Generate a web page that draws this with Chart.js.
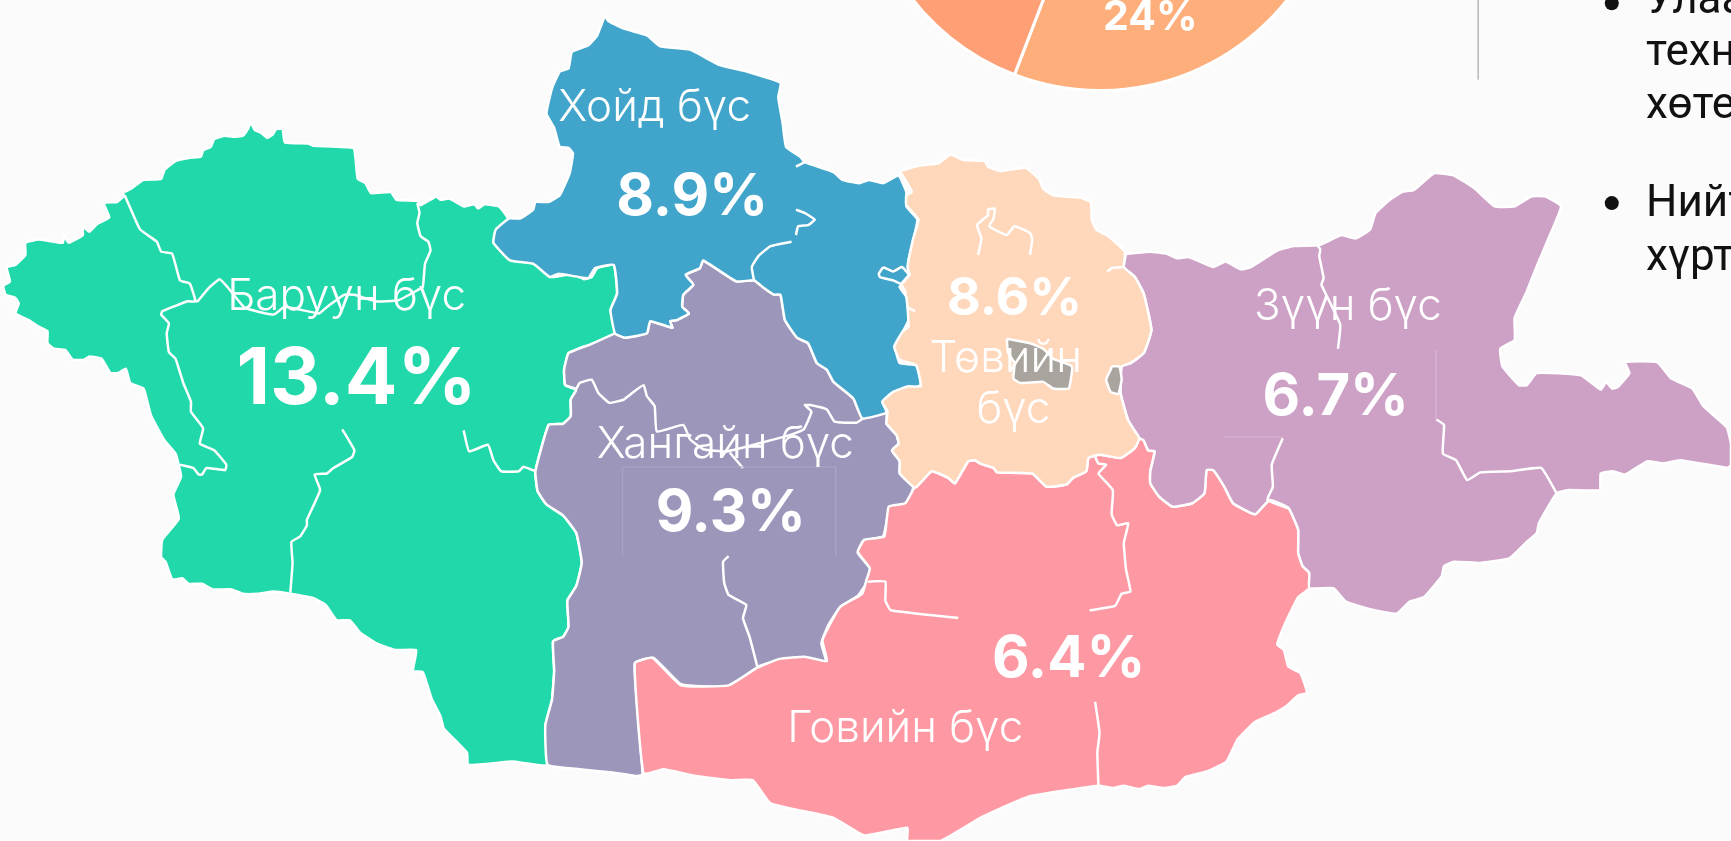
<!DOCTYPE html>
<html>
<head>
<meta charset="utf-8">
<title>Бүсийн хувь</title>
<script src="https://cdn.jsdelivr.net/npm/chart.js@4"></script>
<style>
  html, body { margin: 0; padding: 0; width: 1731px; height: 841px; overflow: hidden; background: #fbfbfb; }
  #pieChart { position: absolute; left: 860px; top: -388px; }
  #mapChart { position: absolute; left: 0; top: 0; }
</style>
</head>
<body>
<canvas id="pieChart" width="480" height="480"></canvas>
<canvas id="mapChart" width="1731" height="841"></canvas>
<script>
// region shares
const regionNames = [["Баруун бүс"], ["Хойд бүс"], ["Төвийн", "бүс"], ["Хангайн бүс"], ["Говийн бүс"], ["Зүүн бүс"]];
const regionShares = [13.4, 8.9, 8.6, 9.3, 6.4, 6.7];
const pieValues = [24, 20, 56];
const pieColors = ["#fdae7a", "#fe9f76", "#fe9f76"];
const sideText = ["Улаан", "техн", "хөте", "Нийт", "хүрт"];

// region outlines, in map units (1568 x 762)
const westOutline = [[113,174],[120,170],[130,163],[146,162],[149,154],[159,146],[172,143],[182,142],[184,136],[191,133],[194,126],[203,123],[211,124],[220,123],[225,116],[227,111],[231,118],[236,120],[242,125],[247,122],[250,117],[256,117],[258,129],[279,130],[284,132],[320,134],[322,143],[324,162],[331,166],[336,175],[354,174],[359,181],[378,182],[381,186],[395,178],[399,181],[407,180],[420,187],[430,185],[433,189],[439,185],[452,187],[460,198],[451,207],[447,220],[463,235],[484,238],[499,251],[520,248],[529,253],[536,251],[541,243],[556,240],[559,266],[553,281],[557,302],[535,312],[515,320],[511,335],[512,349],[522,353],[517,362],[517,377],[510,384],[497,385],[485,427],[487,445],[495,457],[510,467],[522,483],[527,510],[522,531],[514,544],[515,568],[510,577],[501,581],[502,608],[500,634],[494,657],[496,693],[464,690],[424,693],[423,682],[402,660],[399,649],[391,633],[383,609],[374,608],[377,589],[358,589],[341,583],[326,573],[317,562],[305,562],[295,548],[284,542],[263,538],[248,536],[233,538],[220,538],[210,534],[193,534],[183,529],[171,529],[165,524],[156,525],[150,509],[146,505],[147,489],[162,470],[157,448],[164,432],[159,411],[149,399],[137,377],[133,362],[130,352],[118,347],[114,334],[107,338],[100,338],[92,325],[81,323],[76,326],[66,326],[59,317],[49,316],[43,311],[43,300],[35,296],[26,290],[14,284],[17,275],[14,270],[5,267],[3,259],[9,255],[6,242],[14,240],[23,231],[23,220],[35,217],[57,220],[58,213],[62,220],[75,213],[75,205],[81,210],[88,203],[99,197],[94,184],[106,183],[113,177]];
const northOutline = [[548,14],[551,19],[565,26],[586,32],[598,42],[625,45],[652,59],[677,65],[707,75],[705,88],[709,112],[712,133],[725,142],[729,147],[755,156],[763,163],[778,166],[787,163],[800,166],[814,159],[821,174],[821,187],[831,199],[823,236],[824,249],[815,260],[821,267],[823,290],[811,314],[815,329],[830,331],[834,349],[806,358],[800,365],[803,374],[781,379],[773,361],[755,346],[749,335],[740,329],[732,311],[722,306],[711,290],[707,267],[701,267],[692,261],[683,254],[667,255],[637,236],[634,243],[621,249],[628,258],[619,267],[618,278],[624,284],[613,290],[607,291],[609,297],[589,291],[586,302],[566,306],[557,302],[553,281],[559,266],[556,240],[539,243],[533,252],[524,251],[506,248],[498,251],[483,239],[462,236],[447,220],[449,208],[461,198],[471,198],[483,190],[485,183],[497,183],[507,177],[516,157],[519,139],[515,134],[507,133],[502,116],[495,103],[500,80],[507,65],[515,62],[518,47],[533,41],[541,32],[548,14]];
const centralOutline = [[815,155],[833,150],[850,148],[861,140],[873,145],[892,146],[895,151],[906,155],[929,152],[941,162],[945,171],[954,177],[978,179],[988,183],[989,199],[993,208],[1004,214],[1019,228],[1018,242],[1028,251],[1036,266],[1043,299],[1036,320],[1024,329],[1016,332],[1015,356],[1022,381],[1032,397],[1028,406],[1015,415],[996,412],[986,415],[984,427],[972,433],[966,439],[948,441],[935,429],[903,428],[900,424],[888,420],[883,417],[877,418],[865,438],[859,433],[844,427],[829,442],[815,429],[815,418],[808,408],[814,402],[812,394],[803,384],[804,373],[799,364],[809,355],[823,350],[834,350],[830,331],[815,326],[810,314],[818,300],[823,296],[821,269],[815,260],[824,249],[822,242],[827,217],[832,199],[821,186],[821,177],[826,174],[820,163],[815,155]];
const khangaiOutline = [[557,302],[566,306],[586,302],[589,291],[609,297],[607,291],[613,290],[624,284],[618,278],[619,267],[628,258],[621,249],[634,243],[637,236],[667,255],[683,254],[692,261],[701,267],[707,267],[711,290],[722,306],[732,311],[740,329],[749,335],[755,346],[773,361],[781,379],[803,374],[803,384],[812,394],[814,402],[808,408],[815,418],[815,429],[827,441],[823,456],[806,460],[800,486],[782,490],[777,501],[788,515],[785,528],[777,540],[761,550],[750,567],[744,583],[748,599],[729,596],[706,598],[687,604],[660,622],[617,620],[592,596],[575,601],[582,702],[575,703],[555,700],[525,697],[496,693],[494,657],[500,634],[502,608],[501,581],[510,577],[515,568],[514,544],[522,531],[527,510],[522,483],[510,467],[495,457],[487,445],[485,427],[497,385],[510,384],[517,377],[517,362],[522,353],[512,349],[511,335],[515,320],[535,312],[557,302]];
const gobiOutline = [[828,442],[820,456],[805,459],[801,486],[783,489],[777,500],[788,515],[785,525],[781,538],[761,550],[745,580],[749,599],[729,595],[706,597],[686,605],[660,621],[617,621],[591,596],[575,601],[583,701],[601,697],[630,703],[662,707],[682,707],[698,728],[755,741],[783,757],[822,750],[822,762],[852,762],[890,740],[931,722],[995,712],[1008,714],[1018,712],[1032,715],[1040,712],[1054,714],[1066,712],[1074,704],[1093,699],[1111,690],[1121,670],[1137,654],[1155,646],[1165,640],[1176,630],[1184,628],[1178,610],[1167,604],[1163,589],[1157,584],[1165,563],[1176,541],[1186,533],[1186,519],[1180,513],[1176,501],[1176,480],[1167,460],[1150,453],[1137,466],[1117,456],[1109,441],[1099,426],[1093,426],[1091,447],[1080,456],[1062,459],[1050,450],[1042,438],[1042,427],[1046,409],[1040,408],[1036,399],[1032,397],[1028,406],[1015,415],[996,412],[986,415],[984,427],[972,433],[966,439],[948,441],[935,429],[903,428],[900,424],[888,420],[883,417],[877,418],[865,438],[859,433],[844,427],[828,442]];
const eastOutline = [[1020,230],[1042,228],[1057,230],[1066,234],[1077,233],[1099,242],[1110,237],[1124,244],[1133,242],[1157,227],[1172,223],[1195,222],[1215,213],[1228,216],[1241,208],[1246,193],[1259,181],[1270,174],[1281,172],[1299,157],[1317,159],[1336,171],[1354,187],[1372,187],[1387,178],[1400,178],[1414,187],[1404,213],[1393,239],[1383,264],[1372,288],[1372,308],[1359,316],[1361,332],[1376,349],[1383,349],[1392,338],[1432,340],[1450,353],[1455,346],[1460,352],[1465,351],[1476,338],[1472,328],[1501,328],[1514,343],[1533,352],[1543,368],[1564,387],[1568,402],[1568,421],[1565,424],[1522,417],[1507,420],[1492,418],[1472,430],[1461,427],[1450,429],[1449,444],[1421,444],[1410,447],[1394,474],[1392,483],[1383,491],[1367,506],[1341,510],[1317,509],[1308,513],[1306,522],[1290,541],[1277,545],[1265,556],[1241,552],[1219,545],[1208,533],[1186,533],[1186,519],[1180,513],[1176,501],[1176,480],[1167,460],[1150,453],[1137,466],[1117,456],[1109,441],[1099,426],[1093,426],[1091,447],[1080,456],[1062,459],[1050,450],[1042,438],[1042,427],[1046,409],[1040,408],[1036,399],[1032,397],[1022,381],[1015,356],[1016,332],[1024,329],[1036,320],[1043,299],[1036,266],[1028,251],[1018,242],[1020,230]];
const cityLarge = [[912,307],[933,311],[945,316],[954,325],[971,332],[968,352],[954,352],[945,346],[924,347],[918,343],[919,329],[913,319],[912,307]];
const citySmall = [[1007,332],[1014,332],[1016,344],[1013,357],[1006,355],[1002,344],[1006,335],[1007,332]];

// inner aimag borders
const innerBorders = [
  [[113,177],[120,193],[127,208],[142,219],[146,228],[156,230],[163,254],[172,257],[177,273],[170,273],[147,282],[146,285],[153,293],[151,302],[153,319],[159,325],[166,347],[173,364],[173,373],[184,388],[181,402],[194,408],[205,421],[204,426],[187,424],[183,430],[180,430],[175,424],[163,421]],
  [[177,273],[179,273],[189,261],[199,253],[206,260],[222,279],[248,285],[258,278],[289,284],[295,279],[312,267],[321,267],[340,273],[361,272],[378,263],[383,260],[385,239],[390,227],[388,219],[381,214],[378,202],[380,193],[378,184]],
  [[310,389],[321,408],[319,414],[302,424],[296,429],[285,430],[290,444],[278,471],[278,476],[272,486],[264,491],[265,510],[263,537]],
  [[420,390],[425,409],[442,403],[447,417],[454,427],[470,427],[474,423],[485,427]],
  [[721,151],[729,147]],
  [[721,190],[729,193],[738,199],[732,204],[723,205],[721,213]],
  [[717,219],[698,223],[687,232],[681,242],[683,254]],
  [[800,242],[809,246],[817,242],[823,249],[816,257],[809,254],[797,251],[796,248],[800,242]],
  [[816,257],[821,266]],
  [[823,279],[829,282]],
  [[886,231],[889,216],[885,204],[895,195],[895,190],[901,189],[900,198],[896,205],[912,213],[919,205],[933,211],[935,217],[933,231]],
  [[1003,246],[1007,243],[1018,242]],
  [[512,349],[522,352],[525,347],[536,344],[542,356],[552,365],[565,362],[574,355],[583,349],[586,359],[593,368],[595,391],[619,385],[625,398],[637,407],[658,409],[716,394],[728,389],[735,373],[729,367],[734,367],[749,371],[756,382],[776,383],[782,379]],
  [[661,410],[673,424]],
  [[660,504],[655,509],[656,528],[660,539],[676,548],[673,560],[679,577],[686,604]],
  [[992,414],[995,420],[1002,421],[995,429],[1008,444],[1007,466],[1012,476],[1022,474],[1018,492],[1020,516],[1024,536],[1016,538],[1010,549],[987,553]],
  [[786,527],[802,527],[802,544],[807,553],[868,560]],
  [[992,636],[996,664],[994,682],[995,712]],
  [[1193,222],[1196,226],[1195,232],[1199,252],[1197,258],[1214,294],[1212,316]],
  [[1162,397],[1152,421],[1153,441],[1148,453],[1168,461]],
  [[1301,380],[1308,385],[1307,411],[1319,417],[1329,435],[1341,428],[1368,427],[1396,424],[1410,447]]
];

// faint box edges left over round the percentages, and the rule at the top
const boxEdges = [
  { color: "#aaa5c6", pts: [[564,503],[564,423],[757,423],[757,503]] },
  { color: "#d7b3d1", pts: [[1301,317],[1301,380]] },
  { color: "#d7b3d1", pts: [[1108,396],[1162,396]] },
  { color: "#bdbdbd", pts: [[1339,0],[1339,72]] }
];
const bulletMarks = [[1460,3],[1460,184]];

const toPoints = pts => pts.map(p => ({ x: p[0], y: p[1] }));

const regionFill = (pts, color) => ({
  data: toPoints(pts), showLine: true, fill: "shape", backgroundColor: color,
  borderColor: "#ffffff", borderWidth: 2.5, pointRadius: 0, tension: 0.12
});
const plainLine = (pts, color, width, bend) => ({
  data: toPoints(pts), showLine: true, fill: false,
  borderColor: color, borderWidth: width, pointRadius: 0, tension: bend
});

// text goes on top, placed through the same scales as the map
const textPlugin = {
  id: "mapText",
  afterDatasetsDraw(chart) {
    const { ctx, scales: { x, y } } = chart;
    const put = (text, px, py, font, color) => {
      ctx.font = font;
      ctx.fillStyle = color;
      ctx.fillText(text, x.getPixelForValue(px), y.getPixelForValue(py));
    };
    const sans = "Inter, Roboto, sans-serif";
    ctx.save();
    ctx.textAlign = "center";
    ctx.textBaseline = "alphabetic";

    // name anchors: centre x, baseline y
    const nameAt = [[314,281],[593,110],[911,337],[657,415],[820,672],[1221,290]];
    const pctAt = [[323,366],[627,195],[919,285],[662,481],[968,613],[1210,376]];
    const pctSize = [78, 58, 52, 58, 58, 58];
    regionNames.forEach((lines, i) => {
      lines.forEach((line, j) => {
        put(line, nameAt[i][0] + (j ? 7 : 0), nameAt[i][1] + j * 46, "300 44px " + sans, "#ffffff");
      });
      put(regionShares[i] + "%", pctAt[i][0], pctAt[i][1], "700 " + pctSize[i] + "px " + sans, "#ffffff");
    });
    put(pieValues[0] + "%", 1042, 27, "700 41px " + sans, "#ffffff");

    ctx.textAlign = "left";
    const sideY = [12, 59, 107, 196, 245];
    sideText.forEach((t, i) => put(t, 1491, sideY[i], "400 44px Roboto, sans-serif", "#111111"));
    ctx.restore();
  }
};

// Chart.js paints the first dataset last, so top layers come first
new Chart(document.getElementById("mapChart"), {
  type: "scatter",
  data: {
    datasets: [
      { data: toPoints(bulletMarks), showLine: false, pointRadius: 7, pointBackgroundColor: "#111111", pointBorderWidth: 0 },
      ...boxEdges.map(b => plainLine(b.pts, b.color, 1, 0)),
      ...innerBorders.map(b => plainLine(b, "#ffffff", 2.5, 0.12)),
      regionFill(citySmall, "#a9a49d"),
      regionFill(cityLarge, "#a9a49d"),
      regionFill(centralOutline, "#ffd8bc"),
      regionFill(northOutline, "#41a5cb"),
      regionFill(eastOutline, "#cda0c6"),
      regionFill(gobiOutline, "#fe98a3"),
      regionFill(khangaiOutline, "#9c96bb"),
      regionFill(westOutline, "#20d8aa")
    ]
  },
  options: {
    responsive: false,
    animation: false,
    layout: { padding: 0, autoPadding: false },
    plugins: { legend: { display: false }, tooltip: { enabled: false } },
    scales: {
      x: { type: "linear", min: 0, max: 1568, display: false },
      y: { type: "linear", min: 0, max: 762, reverse: true, display: false }
    }
  },
  plugins: [textPlugin]
});

// the pie that runs off the top of the page
new Chart(document.getElementById("pieChart"), {
  type: "pie",
  data: {
    labels: ["24%", "", ""],
    datasets: [{ data: pieValues, backgroundColor: pieColors, borderColor: "#ffffff", borderWidth: 3 }]
  },
  options: {
    responsive: false,
    animation: false,
    rotation: 114.6,
    plugins: { legend: { display: false }, tooltip: { enabled: false } }
  }
});
</script>
</body>
</html>
